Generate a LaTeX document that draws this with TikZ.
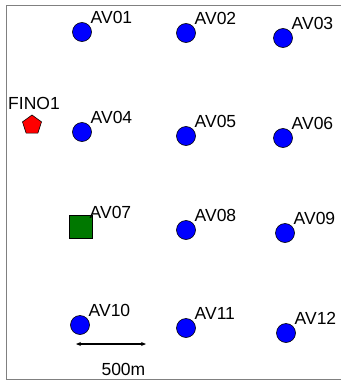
\documentclass[tikz,border=0pt]{standalone}
\usepackage{fontspec}
\setmainfont{Liberation Sans}
\usepackage{xcolor}
\usetikzlibrary{shapes,arrows,positioning,calc,arrows.meta}

\definecolor{mastgreen}{RGB}{0,120,0}

\begin{document}
\begin{tikzpicture}[
    x=1pt, y=-1pt,
    station/.style={draw, circle, fill=blue, inner sep=0pt, minimum size=19pt, line width=0.6pt},
    mast/.style={draw, rectangle, fill=mastgreen, inner sep=0pt, minimum size=23pt, line width=0.6pt},
    buoy/.style={draw, regular polygon, regular polygon sides=5, fill=red, inner sep=0pt, minimum size=20pt, line width=0.6pt},
    tag/.style={anchor=south west, inner sep=0pt, font=\fontsize{17.5}{20}\selectfont}
]
    \useasboundingbox (0,0) rectangle (340,380);

    % Frame
    \draw [gray, line width=1pt] (341,5) -- (6.5,5) -- (6.5,379) -- (341,379);

    % Stations
    \foreach \i/\x/\y in {01/82/32, 02/186/33, 03/283/38, 04/82/132, 05/186/136, 06/283/138,
                          08/186/230, 09/285/233, 10/80/325, 11/186/328, 12/286/333} {
        \node [station] (av\i) at (\x,\y) {};
        \node [tag] (lav\i) at ([shift={(8.5pt,8pt)}]av\i.center) {AV\i};
    }

    % Mast AV07
    \node [mast] (av07) at (80.5,226.5) {};
    \node [tag] (lav07) at ([shift={(9pt,7.5pt)}]av07.center) {AV07};

    % FINO1
    \node [buoy] (fino) at (32,125) {};
    \node [tag, anchor=south] (lfino) at ([shift={(2pt,15pt)}]fino.center) {FINO1};

    % Scale bar
    \coordinate (sbl) at (76,344);
    \coordinate (sbr) at (146,344);
    \draw [{Stealth[length=5pt,width=4pt]}-{Stealth[length=5pt,width=4pt]}, line width=1.2pt] (sbl) -- (sbr);
    \node [tag, anchor=base east] (sblabel) at (145.5,375) {500m};
\end{tikzpicture}
\end{document}
